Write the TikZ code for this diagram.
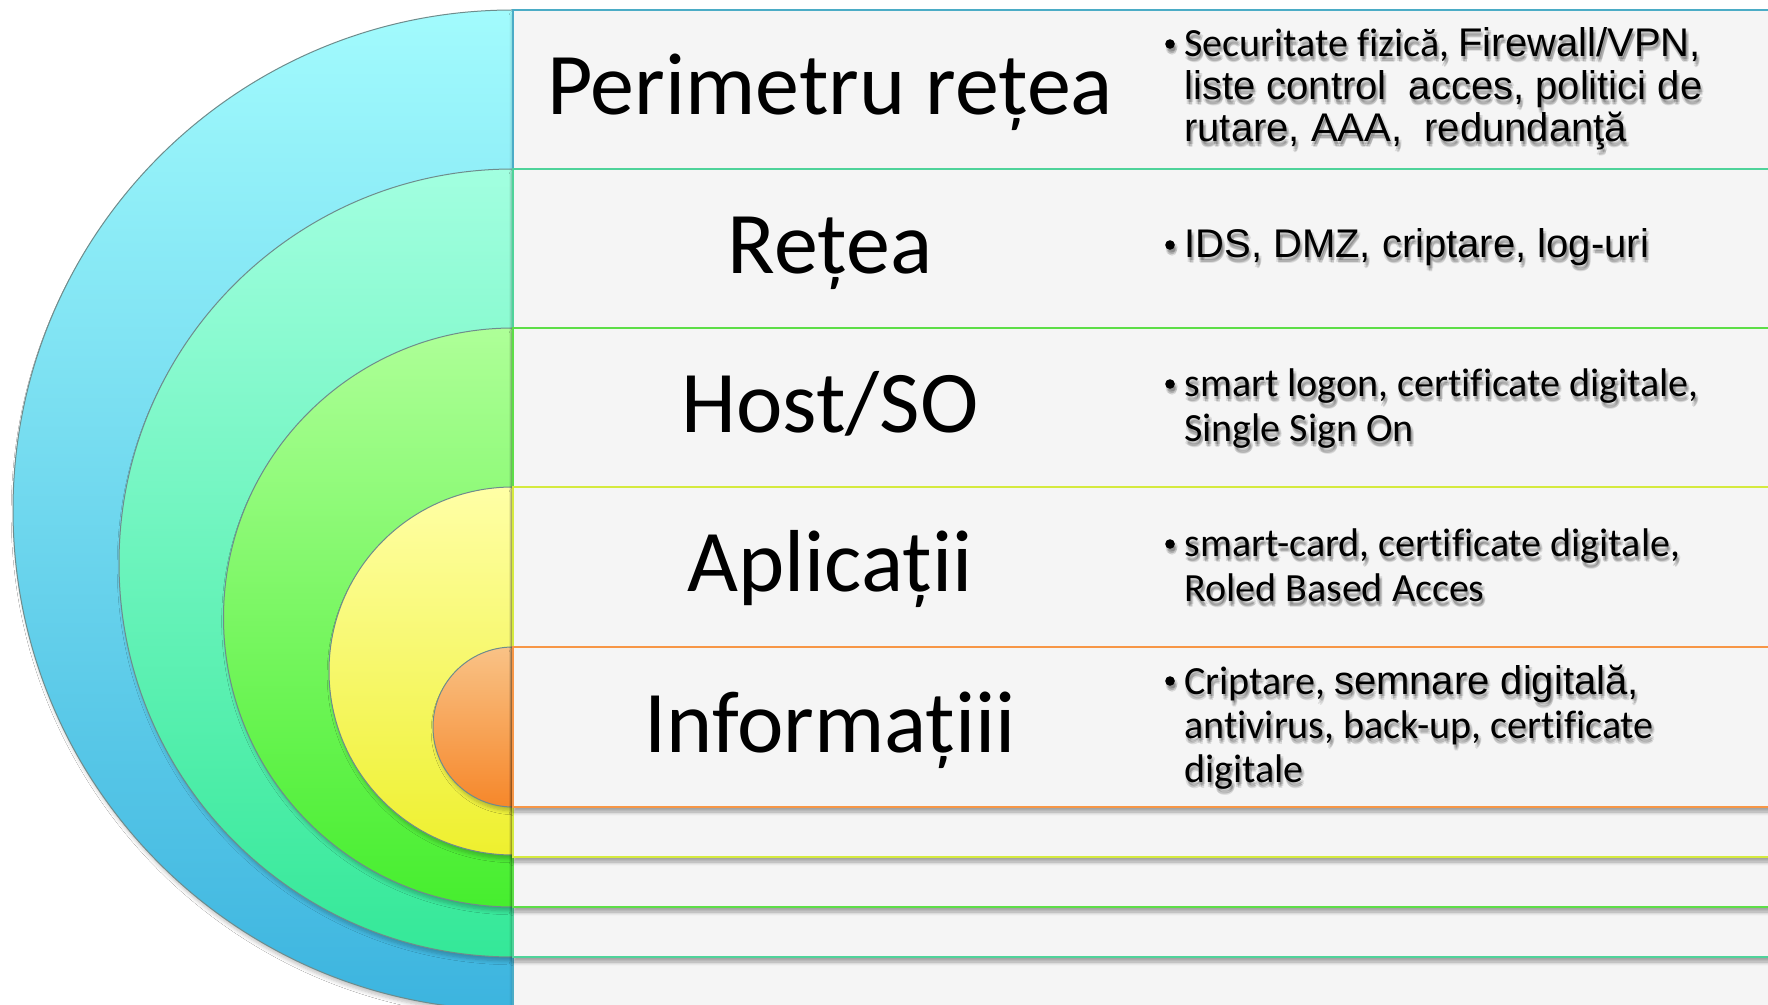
\documentclass[tikz,border=0pt]{standalone}
\usepackage{fontspec}
\setmainfont{Carlito}[Ligatures=CommonOff]
\newfontfamily\arialf{Liberation Sans}
\usetikzlibrary{shadows.blur}
\definecolor{panel}{HTML}{F5F5F5}
\definecolor{lblue}{HTML}{4BACC6}
\definecolor{lteal}{HTML}{4FD39A}
\definecolor{lgreen}{HTML}{5DDE47}
\definecolor{lyellow}{HTML}{D5EA3E}
\definecolor{lorange}{HTML}{F79646}
\definecolor{blueT}{HTML}{A2FBFD}
\definecolor{blueB}{HTML}{3CB4DF}
\definecolor{tealT}{HTML}{A2FFE0}
\definecolor{tealB}{HTML}{34E898}
\definecolor{greenT}{HTML}{AEFF98}
\definecolor{greenB}{HTML}{46EE2E}
\definecolor{yellowT}{HTML}{FFFFA6}
\definecolor{yellowB}{HTML}{EEF02E}
\definecolor{orangeT}{HTML}{F9C286}
\definecolor{orangeB}{HTML}{F6872A}
\definecolor{rim}{HTML}{6E8C8C}
\tikzset{
  disc/.style={draw=rim, line width=0.5pt,
    blur shadow={shadow xshift=1pt, shadow yshift=-2pt, shadow blur steps=6, shadow opacity=25}},
  band/.style={fill=panel, line width=1.3pt,
    blur shadow={shadow xshift=0pt, shadow yshift=-2.5pt, shadow blur steps=6, shadow opacity=35}},
  title/.style={anchor=base, inner sep=0pt, font=\fontsize{44}{50}\selectfont},
  desc/.style={anchor=base west, inner sep=0pt, font=\fontsize{20}{24}\selectfont},
  dshadow/.style={desc, text=black, opacity=0.10},
  bul/.style={fill=black}
}
% one description line with a soft text shadow
\newcommand\dline[4]{%
  \foreach \dx/\dy in {1/3, 2.5/4.5, 3/2.5, 0.5/5, 2/6} {\node[dshadow] at (#2+\dx,#3+\dy) {#4};}
  \node[desc] (#1) at (#2,#3) {#4};}
\newcommand\dbullet[2]{%
  \foreach \dx/\dy in {1/3, 2.5/4.5, 3/2.5, 0.5/5, 2/6} {\fill[black, opacity=0.10] (#1+\dx,#2+\dy) circle[radius=4.8];}
  \fill[bul] (#1,#2) circle[radius=4.8];}
\begin{document}
\begin{tikzpicture}[x=0.5pt,y=-0.5pt]
\useasboundingbox (0,0) rectangle (1768,1005);
\clip (0,0) rectangle (1768,1005);
\fill[white] (0,0) rectangle (1768,1005);

% concentric half discs
\shade[disc, top color=blueT, bottom color=blueB] (513,10) arc[start angle=270, end angle=90, radius=500] -- cycle;
\shade[disc, top color=tealT, bottom color=tealB] (513,169) arc[start angle=270, end angle=90, radius=394] -- cycle;
\shade[disc, top color=greenT, bottom color=greenB] (513,328) arc[start angle=270, end angle=90, radius=289.5] -- cycle;
\shade[disc, top color=yellowT, bottom color=yellowB] (513,487) arc[start angle=270, end angle=90, radius=184] -- cycle;
\shade[disc, top color=orangeT, bottom color=orangeB] (513,647) arc[start angle=270, end angle=90, radius=80] -- cycle;

% nested bands
\draw[band, draw=lblue] (513,10) rectangle (1800,1040);
\draw[band, draw=lteal] (513,169) rectangle (1800,957);
\draw[band, draw=lgreen] (513,328) rectangle (1800,907);
\draw[band, draw=lyellow] (513,487) rectangle (1800,857);
\draw[band, draw=lorange] (513,647) rectangle (1800,807);

% titles
\node[title] (t1) at (830,114.5) {Perimetru rețea};
\node[title] (t2) at (830,273.5) {Rețea};
\node[title] (t3) at (830,432.5) {Host/SO};
\node[title] (t4) at (830,592) {Aplicații};
\node[title] (t5) at (830,752) {Informațiii};

% descriptions
\dbullet{1170}{44}
\dline{d1a}{1184}{57}{Securitate fizică, {\arialf Firewall/VPN,}}
\dline{d1b}{1184}{100}{\arialf liste control\ \ acces, politici de}
\dline{d1c}{1184}{142}{\arialf rutare, AAA,\ \ redundanţă}

\dbullet{1170}{245}
\dline{d2a}{1184}{258}{\arialf IDS, DMZ, criptare, log-uri}

\dbullet{1170}{384}
\dline{d3a}{1184}{397}{smart logon, certificate digitale,}
\dline{d3b}{1184}{442}{Single Sign On}

\dbullet{1170}{544}
\dline{d4a}{1184}{557}{smart-card, certificate digitale,}
\dline{d4b}{1184}{602}{Roled Based Acces}

\dbullet{1170}{681}
\dline{d5a}{1184}{694}{Criptare, {\arialf semnare digitală,}}
\dline{d5b}{1184}{738}{antivirus, back-up, certificate}
\dline{d5c}{1184}{782}{digitale}
\end{tikzpicture}
\end{document}
